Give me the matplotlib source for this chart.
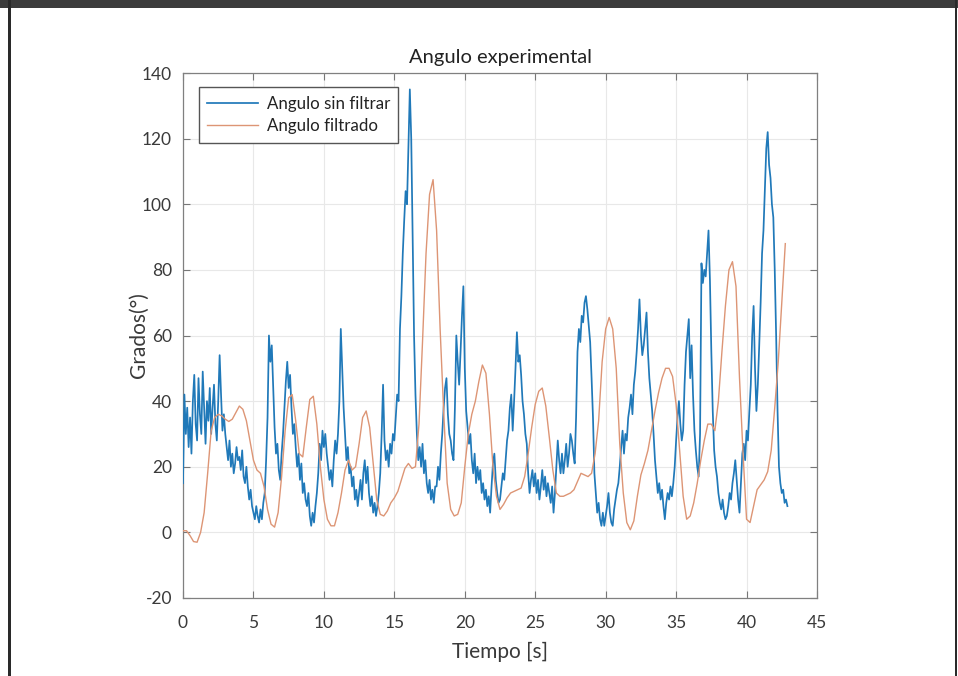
import numpy as np
import matplotlib
matplotlib.use("Agg")
import matplotlib.pyplot as plt
from matplotlib.patches import Rectangle

# ---------------- data ----------------
dt_raw = 0.1
angulo_sin_filtrar = [
    15, 42, 30, 38, 26, 35, 24, 40, 48, 33,
    28, 47, 36, 30, 49, 38, 27, 40, 34, 44,
    30, 38, 45, 33, 28, 40, 54, 42, 31, 36,
    30, 26, 22, 28, 20, 24, 18, 21, 26, 22,
    23, 19, 25, 17, 15, 20, 14, 10, 13, 8,
    6, 4, 8, 5, 3, 7, 4, 9, 12, 22,
    35, 60, 52, 57, 44, 32, 24, 27, 19, 16,
    24, 30, 38, 46, 52, 44, 48, 38, 30, 33,
    26, 20, 24, 16, 21, 12, 15, 10, 8, 12,
    5, 2, 6, 3, 8, 12, 18, 27, 22, 31,
    26, 30, 24, 20, 16, 19, 14, 22, 28, 24,
    30, 40, 62, 50, 38, 30, 22, 26, 18, 20,
    14, 17, 10, 13, 8, 12, 16, 10, 18, 22,
    15, 20, 12, 8, 11, 6, 9, 5, 8, 12,
    18, 30, 45, 28, 22, 25, 20, 27, 24, 30,
    28, 35, 42, 40, 62, 72, 85, 95, 104, 100,
    118, 135, 120, 90, 60, 42, 30, 22, 26, 20,
    27, 18, 22, 15, 12, 16, 10, 13, 9, 14,
    14, 20, 16, 24, 30, 38, 44, 47, 36, 30,
    28, 24, 22, 38, 60, 52, 45, 55, 66, 75,
    50, 37, 32, 27, 30, 22, 18, 24, 15, 20,
    16, 19, 12, 15, 10, 13, 8, 11, 6, 14,
    21, 24, 16, 12, 9, 10, 14, 18, 16, 22,
    28, 31, 38, 42, 31, 40, 50, 61, 52, 54,
    48, 40, 36, 30, 27, 18, 12, 16, 19, 14,
    18, 12, 16, 10, 14, 19, 13, 17, 11, 15,
    12, 9, 14, 6, 12, 20, 28, 22, 18, 24,
    18, 22, 27, 20, 24, 30, 28, 24, 21, 35,
    55, 62, 58, 66, 64, 70, 72, 68, 63, 58,
    47, 35, 18, 12, 6, 9, 4, 2, 6, 2,
    5, 8, 12, 6, 3, 2, 7, 10, 13, 15,
    20, 26, 31, 24, 30, 28, 35, 38, 42, 36,
    45, 49, 55, 62, 71, 60, 54, 57, 62, 67,
    55, 47, 42, 37, 30, 22, 17, 12, 15, 10,
    13, 8, 4, 9, 12, 10, 14, 11, 15, 20,
    28, 35, 40, 33, 28, 31, 45, 55, 60, 65,
    47, 57, 42, 31, 25, 20, 17, 30, 82, 76,
    80, 78, 85, 92, 77, 55, 37, 25, 20, 17,
    12, 9, 7, 10, 6, 4, 5, 8, 12, 10,
    15, 18, 22, 16, 10, 6, 15, 24, 27, 22,
    31, 28, 37, 45, 60, 69, 50, 37, 45, 57,
    70, 85, 92, 105, 117, 122, 112, 108, 100, 96,
    80, 60, 37, 20, 15, 12, 13, 9, 10, 8,
]

dt_filt = 0.25
angulo_filtrado = [
    0.5, 0.5, -1, -2.8,
    -3, 0, 6, 18,
    31, 35, 36, 35.5,
    34.5, 33.8, 34.5, 36.5,
    38.5, 37.5, 34, 28,
    22, 19, 18, 14,
    7, 2.5, 1.6, 6,
    17, 31, 41, 42,
    34, 24, 23, 32,
    40.5, 41.5, 33, 20,
    10, 4, 2, 2,
    6, 12, 19, 22,
    19, 20, 27, 35,
    37, 32, 21, 10,
    5.5, 5, 6.5, 9,
    10.5, 12.5, 16, 19.5,
    21, 19.5, 20, 33,
    58, 85, 103, 107.5,
    92, 62, 37, 15,
    7, 5, 5.5, 9,
    20, 30, 36, 40,
    46, 51, 48.5, 36,
    20, 11, 7, 8.5,
    10.5, 12, 12.5, 13,
    13.5, 17, 24, 32,
    39, 43, 44, 38.5,
    29, 19, 12, 11,
    11, 11.5, 12, 13,
    15.5, 18, 17.5, 17,
    18, 24, 34, 52,
    62, 65.5, 62, 50,
    27, 12, 3, 0.8,
    3.5, 11, 17.5, 21,
    25, 31, 37, 42.5,
    47, 50, 50, 47.5,
    39, 25, 11, 4,
    5, 9, 15, 22,
    28, 33, 33, 31,
    40, 55, 69, 80,
    82.5, 75, 47, 24,
    4, 3, 8, 13,
    14.5, 16, 18.5, 25,
    38, 52, 70, 88,
]

x_ticks = [0, 5, 10, 15, 20, 25, 30, 35, 40, 45]
y_ticks = [-20, 0, 20, 40, 60, 80, 100, 120, 140]

t_raw = np.arange(len(angulo_sin_filtrar)) * dt_raw
t_filt = np.arange(len(angulo_filtrado)) * dt_filt

# ---------------- style ----------------
plt.rcParams['font.family'] = ['Lato', 'DejaVu Sans']
plt.rcParams['axes.unicode_minus'] = False
txt = '#3a3a3a'

fig = plt.figure(figsize=(9.58, 6.76), dpi=100)
fig.patch.set_facecolor('white')

# dark frame of the original screenshot
fig.patches.append(Rectangle((0, 1 - 8 / 676), 1, 8 / 676, transform=fig.transFigure,
                             facecolor='#3c3c3c', edgecolor='none', zorder=0))
fig.patches.append(Rectangle((8 / 958, 0), 2.5 / 958, 1, transform=fig.transFigure,
                             facecolor='#2a2a2a', edgecolor='none', zorder=0))
fig.patches.append(Rectangle((954.5 / 958, 0), 2.5 / 958, 1, transform=fig.transFigure,
                             facecolor='#2a2a2a', edgecolor='none', zorder=0))

ax = fig.add_axes([183 / 958, 1 - 598 / 676, (817 - 183) / 958, (598 - 73) / 676])

ax.plot(t_raw, angulo_sin_filtrar, color='#2079b9', lw=1.25, label='Angulo sin filtrar', zorder=3)
ax.plot(t_filt, angulo_filtrado, color='#dd9575', lw=1.0, label='Angulo filtrado', zorder=4)

ax.set_xlim(0, 45)
ax.set_ylim(-20, 140)
ax.set_xticks(x_ticks)
ax.set_yticks(y_ticks)
ax.grid(True, color='#e8e8e8', lw=0.8, zorder=0)
ax.set_axisbelow(True)
ax.tick_params(axis='both', direction='in', length=5, width=0.8, top=True, right=True,
               colors='#777777', labelcolor=txt, labelsize=12.5)
ax.tick_params(axis='x', pad=12)
ax.tick_params(axis='y', pad=8)
for s in ax.spines.values():
    s.set_color('#808080')
    s.set_linewidth(0.9)

ax.set_title('Angulo experimental', fontsize=14.5, color='#222222', pad=7)
ax.set_xlabel('Tiempo [s]', fontsize=15, color=txt, labelpad=8)
ax.set_ylabel('Grados(°)', fontsize=15, color=txt, labelpad=-5)

leg = ax.legend(loc='upper left', bbox_to_anchor=(0.025, 0.973), borderaxespad=0,
                fontsize=12.2, frameon=True, fancybox=False, framealpha=1,
                edgecolor='#555555', handlelength=3.0, borderpad=0.5,
                labelspacing=0.4, handletextpad=0.5)
leg.get_frame().set_linewidth(1.0)
for t in leg.get_texts():
    t.set_color('#222222')

fig.savefig('out.png', dpi=100)
